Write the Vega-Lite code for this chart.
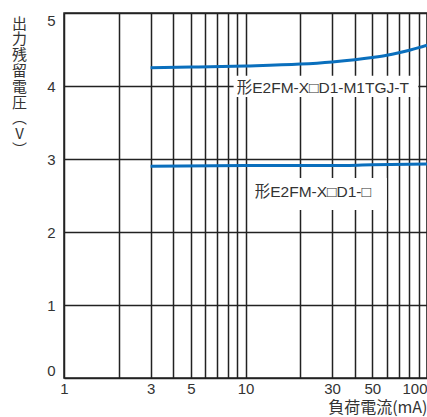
{
  "$schema": "https://vega.github.io/schema/vega-lite/v6.json",
  "width": 363,
  "height": 365,
  "autosize": {"type": "none"},
  "padding": {"left": 64, "top": 13, "right": 0, "bottom": 39},
  "background": "white",
  "config": {
    "font": "Liberation Sans, Noto Sans CJK JP, sans-serif",
    "view": {"stroke": "#222", "strokeWidth": 1.5}
  },
  "datasets": {
    "curves": [
      {"series": "M1TGJ-T", "current": 3, "voltage": 4.25},
      {"series": "M1TGJ-T", "current": 5, "voltage": 4.26},
      {"series": "M1TGJ-T", "current": 10, "voltage": 4.275},
      {"series": "M1TGJ-T", "current": 20, "voltage": 4.30},
      {"series": "M1TGJ-T", "current": 30, "voltage": 4.33},
      {"series": "M1TGJ-T", "current": 40, "voltage": 4.36},
      {"series": "M1TGJ-T", "current": 50, "voltage": 4.39},
      {"series": "M1TGJ-T", "current": 60, "voltage": 4.42},
      {"series": "M1TGJ-T", "current": 70, "voltage": 4.455},
      {"series": "M1TGJ-T", "current": 80, "voltage": 4.49},
      {"series": "M1TGJ-T", "current": 90, "voltage": 4.525},
      {"series": "M1TGJ-T", "current": 100, "voltage": 4.56},
      {"series": "D1", "current": 3, "voltage": 2.90},
      {"series": "D1", "current": 10, "voltage": 2.91},
      {"series": "D1", "current": 30, "voltage": 2.91},
      {"series": "D1", "current": 50, "voltage": 2.92},
      {"series": "D1", "current": 100, "voltage": 2.93}
    ],
    "labels": [
      {"label": "形E2FM-X□D1-M1TGJ-T", "tx": 8.95, "ty": 3.97, "bx1": 8.6, "bx2": 89.5, "by1": 4.14, "by2": 3.85},
      {"label": "形E2FM-X□D1-□", "tx": 11.25, "ty": 2.55, "bx1": 10.8, "bx2": 60, "by1": 2.74, "by2": 2.30}
    ]
  },
  "layer": [
    {
      "data": {"name": "curves"},
      "mark": {"type": "line", "color": "#0a6fbd", "strokeWidth": 3, "interpolate": "monotone"},
      "encoding": {
        "x": {
          "field": "current",
          "type": "quantitative",
          "title": "負荷電流(mA)",
          "scale": {"type": "log", "domain": [1, 100]},
          "axis": {
            "values": [1, 2, 3, 4, 5, 6, 7, 8, 9, 10, 20, 30, 40, 50, 60, 70, 80, 90, 100],
            "labelExpr": "indexof([1, 3, 5, 10, 30, 50, 100], datum.value) >= 0 ? toString(datum.value) : ''",
            "labelOverlap": false,
            "labelFlush": false,
            "labelBound": false,
            "labelAlign": {"condition": {"test": "datum.value == 100", "value": "right"}, "value": "center"},
            "labelFontSize": 15,
            "labelColor": "#333",
            "labelPadding": 3,
            "grid": true,
            "gridColor": "#222",
            "gridWidth": 1.5,
            "gridOpacity": 1,
            "ticks": false,
            "domain": false,
            "titleFont": "Noto Sans CJK JP",
            "titleFontSize": 16,
            "titleFontWeight": "normal",
            "titleColor": "#333",
            "titleX": 363,
            "titleY": 29.5,
            "titleAlign": "right",
            "titleBaseline": "middle"
          }
        },
        "y": {
          "field": "voltage",
          "type": "quantitative",
          "title": ["出", "力", "残", "留", "電", "圧", "︵", "V", "︶"],
          "scale": {"domain": [0, 5]},
          "axis": {
            "values": [0, 1, 2, 3, 4, 5],
            "format": "d",
            "labelFlush": true,
            "labelFontSize": 15,
            "labelColor": "#333",
            "labelPadding": 9,
            "grid": true,
            "gridColor": "#222",
            "gridWidth": 1.5,
            "gridOpacity": 1,
            "ticks": false,
            "domain": false,
            "titleFont": "Noto Sans CJK JP",
            "titleAngle": 0,
            "titleX": -45,
            "titleY": 3,
            "titleAlign": "center",
            "titleBaseline": "top",
            "titleLineHeight": 15.8,
            "titleFontSize": 15,
            "titleFontWeight": "normal",
            "titleColor": "#333"
          }
        },
        "detail": {"field": "series"}
      }
    },
    {
      "data": {"name": "labels"},
      "mark": {"type": "rect", "fill": "white"},
      "encoding": {
        "x": {"field": "bx1", "type": "quantitative", "title": "負荷電流(mA)"},
        "x2": {"field": "bx2"},
        "y": {"field": "by1", "type": "quantitative", "title": ["出", "力", "残", "留", "電", "圧", "︵", "V", "︶"]},
        "y2": {"field": "by2"}
      }
    },
    {
      "data": {"name": "labels"},
      "mark": {"type": "text", "align": "left", "baseline": "middle", "fontSize": 15.5, "color": "#333"},
      "encoding": {
        "x": {"field": "tx", "type": "quantitative", "title": "負荷電流(mA)"},
        "y": {"field": "ty", "type": "quantitative", "title": ["出", "力", "残", "留", "電", "圧", "︵", "V", "︶"]},
        "text": {"field": "label"}
      }
    }
  ]
}
